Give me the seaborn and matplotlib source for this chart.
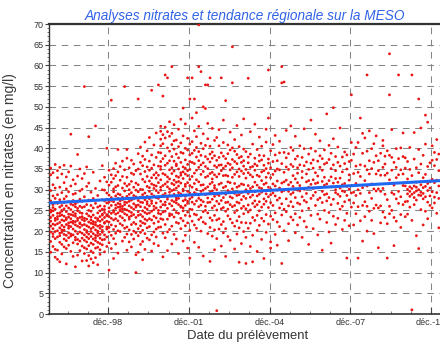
import matplotlib
matplotlib.use("Agg")
import matplotlib.pyplot as plt
import matplotlib.dates as mdates
from matplotlib.ticker import MultipleLocator, FixedLocator, FixedFormatter
import numpy as np
import pandas as pd
import seaborn as sns

# Nitrate concentrations (mg/l), one list per sampling month
mesures_1996 = [  # Oct - Dec
    [22.4, 25.1, 19.8, 27.3, 33.6, 21.2, 17.5, 24.6, 29.8, 14.9, 23.3, 35.2],
    [20.6, 26.4, 23.8, 18.7, 31.2, 24.9, 16.3, 21.7, 28.5, 34.1, 19.4, 25.7],
    [23.1, 18.2, 27.9, 21.5, 15.6, 30.4, 25.3, 22.6, 36.1, 19.9, 26.8, 13.7],
]
mesures_1997 = [
    [21.8, 24.3, 18.6, 26.7, 32.9, 20.1, 15.4, 23.5, 28.8, 13.2, 22.9, 34.6],
    [19.5, 25.8, 22.1, 17.3, 30.6, 24.4, 20.8, 27.6, 12.6, 23.7, 35.4, 18.9],
    [23.9, 21.4, 26.2, 16.8, 29.3, 19.7, 25.0, 22.7, 33.8, 14.5, 24.8, 20.3],
    [20.2, 23.6, 27.8, 18.1, 31.7, 22.5, 16.2, 25.4, 21.0, 35.9, 19.2, 26.9],
    [24.7, 19.0, 22.8, 28.4, 15.8, 26.1, 21.6, 33.1, 17.7, 23.2, 12.1, 30.2],
    [22.0, 25.6, 18.4, 27.1, 20.7, 34.3, 23.4, 16.6, 29.5, 21.3, 24.1, 19.6],
    [21.1, 43.4, 24.0, 18.8, 26.5, 30.9, 22.2, 15.1, 25.2, 19.3, 35.7, 23.0],
    [19.1, 23.8, 26.3, 17.2, 28.9, 22.4, 20.5, 32.4, 24.6, 13.9, 21.9, 27.4],
    [24.2, 20.0, 17.9, 25.9, 22.3, 31.4, 18.5, 26.6, 11.4, 23.6, 29.1, 21.5],
    [38.5, 22.6, 19.4, 24.9, 27.0, 16.9, 21.2, 33.3, 25.5, 18.0, 23.1, 14.2],
    [20.9, 26.0, 23.3, 17.6, 29.7, 22.0, 19.8, 24.5, 35.0, 15.3, 27.7, 21.8],
    [23.5, 18.3, 25.7, 21.4, 30.1, 16.4, 24.3, 19.5, 27.2, 22.8, 12.8, 32.7],
]
mesures_1998 = [
    [54.9, 20.4, 23.1, 17.8, 25.9, 14.6, 21.6, 28.3, 19.1, 33.9, 22.5, 16.0],
    [18.6, 22.9, 15.7, 26.4, 20.1, 12.9, 24.2, 17.4, 30.8, 21.3, 19.7, 35.5],
    [42.8, 21.0, 16.5, 23.7, 19.3, 27.5, 14.1, 22.2, 18.2, 25.0, 11.6, 31.6],
    [20.6, 17.1, 24.8, 19.9, 15.2, 22.7, 29.4, 18.7, 21.9, 13.3, 26.2, 23.4],
    [19.4, 22.3, 16.8, 25.6, 20.9, 14.8, 18.1, 27.9, 21.7, 12.4, 23.9, 34.2],
    [45.4, 21.5, 17.7, 23.2, 19.0, 26.7, 15.9, 22.1, 20.3, 18.4, 30.3, 13.6],
    [20.0, 18.9, 22.6, 16.1, 24.4, 21.2, 17.3, 19.6, 28.6, 23.0, 11.9, 25.8],
    [21.4, 17.0, 23.5, 19.2, 26.1, 15.5, 22.4, 20.7, 32.1, 18.3, 24.9, 14.4],
    [22.8, 19.7, 25.3, 17.9, 27.6, 21.1, 23.9, 16.7, 30.0, 20.2, 35.8, 24.1],
    [24.5, 21.9, 27.3, 19.1, 29.9, 23.3, 18.0, 26.0, 33.0, 22.1, 15.0, 25.2],
    [40.0, 23.7, 26.8, 20.5, 29.2, 24.0, 18.6, 31.9, 22.4, 27.7, 16.3, 21.0],
    [25.6, 22.2, 28.7, 19.8, 31.1, 24.7, 20.9, 27.0, 34.7, 23.5, 17.2, 10.6],
]
mesures_1999 = [
    [51.6, 24.3, 28.1, 21.5, 31.8, 26.2, 19.0, 33.6, 23.1, 27.4, 15.8],
    [22.7, 29.5, 25.0, 20.4, 32.7, 27.1, 18.2, 35.1, 24.6, 13.4, 30.2],
    [26.3, 23.0, 30.7, 21.2, 28.5, 33.4, 25.5, 19.5, 36.4, 24.1, 16.9],
    [39.7, 25.8, 27.9, 22.5, 31.0, 24.4, 20.1, 34.3, 26.7, 29.0, 14.7],
    [24.9, 26.5, 25.2, 28.8, 21.8, 32.3, 27.3, 23.6, 19.9, 35.6, 25.9],
    [26.0, 24.7, 27.6, 23.2, 30.4, 25.4, 21.4, 33.2, 28.2, 17.6, 36.9],
    [54.9, 25.3, 27.0, 24.2, 29.7, 22.6, 31.5, 26.4, 20.7, 34.8, 18.5],
    [39.7, 23.9, 28.4, 21.0, 30.9, 26.9, 19.3, 33.0, 25.1, 15.4, 37.6],
    [22.9, 27.2, 24.8, 31.3, 20.3, 28.9, 35.3, 26.1, 17.4, 30.0, 23.4],
    [25.7, 21.6, 29.3, 23.7, 32.0, 27.5, 19.2, 34.0, 24.5, 16.2, 37.1],
    [24.0, 28.6, 22.1, 30.6, 26.6, 20.0, 33.7, 25.3, 18.1, 36.2, 27.8],
    [10.0, 26.2, 23.3, 29.9, 21.7, 31.6, 25.8, 19.6, 34.6, 28.3, 14.3],
]
mesures_2000 = [
    [51.9, 27.4, 23.8, 31.2, 20.6, 35.0, 26.3, 18.9, 29.5, 38.7, 24.7, 14.9],
    [25.9, 30.1, 22.4, 33.8, 19.7, 28.2, 36.6, 24.0, 16.8, 27.0, 40.3, 21.3],
    [28.8, 23.5, 32.5, 20.2, 26.9, 35.8, 30.0, 17.5, 24.9, 38.1, 22.0, 13.1],
    [24.5, 29.2, 21.8, 34.4, 27.6, 19.4, 31.9, 25.7, 37.3, 22.9, 15.6, 41.5],
    [27.1, 22.6, 30.8, 25.3, 35.5, 20.8, 28.4, 18.3, 33.2, 24.2, 39.4, 26.5],
    [29.6, 24.4, 32.1, 21.1, 27.8, 36.9, 23.0, 30.5, 17.9, 26.1, 34.7, 42.6],
    [54.0, 26.7, 31.4, 22.7, 29.0, 35.2, 24.8, 19.1, 32.9, 27.3, 38.4, 15.2],
    [25.2, 30.3, 21.9, 28.5, 33.6, 26.0, 19.8, 36.0, 23.6, 31.1, 40.8, 17.0],
    [28.1, 23.2, 32.8, 25.6, 37.8, 20.5, 29.8, 34.1, 26.8, 18.6, 30.9, 43.7],
    [55.3, 27.9, 22.3, 31.7, 25.0, 35.7, 29.3, 20.9, 33.5, 24.3, 39.0, 16.5],
    [21.0, 24.1, 27.2, 29.9, 32.4, 34.9, 36.8, 38.9, 40.6, 42.2, 44.1, 45.3, 25.8, 30.6, 23.0, 35.6],
    [52.6, 22.8, 26.4, 31.0, 33.9, 37.5, 41.1, 43.3, 28.7, 24.6, 19.5, 13.8],
]
mesures_2001 = [
    [57.7, 29.1, 33.6, 24.8, 38.2, 27.0, 42.5, 31.4, 21.6, 35.9, 26.3, 45.1, 18.4],
    [57.0, 30.7, 25.5, 36.4, 28.3, 40.1, 22.9, 33.1, 27.7, 44.0, 19.8, 31.9, 15.3],
    [28.6, 34.8, 23.7, 39.3, 30.2, 26.6, 42.9, 32.6, 20.4, 37.0, 29.4, 46.4, 24.2],
    [59.7, 31.5, 27.4, 35.3, 24.0, 40.9, 29.8, 33.9, 21.2, 38.0, 26.1, 43.6, 16.9],
    [30.0, 25.2, 36.9, 28.9, 41.8, 32.3, 23.4, 34.5, 27.1, 39.8, 19.2, 31.2, 45.7],
    [27.5, 33.3, 24.5, 38.6, 30.4, 22.1, 35.8, 28.0, 42.0, 26.8, 31.8, 18.1, 36.2],
    [32.0, 26.4, 37.7, 29.3, 24.3, 40.4, 33.0, 21.9, 35.0, 27.9, 44.6, 30.9, 14.6],
    [29.0, 34.1, 25.8, 39.0, 31.6, 23.1, 36.6, 28.5, 41.3, 26.0, 20.6, 33.5, 47.0],
    [49.7, 30.1, 24.9, 35.5, 27.3, 38.8, 32.7, 22.5, 29.7, 43.0, 25.6, 17.6, 34.3],
    [28.4, 33.8, 26.2, 37.2, 30.8, 23.8, 40.0, 31.3, 21.3, 35.2, 27.6, 45.9, 19.0],
    [57.0, 31.7, 27.2, 36.1, 24.6, 39.6, 29.6, 33.4, 22.0, 42.4, 26.7, 15.9, 34.6],
    [51.9, 29.2, 34.9, 25.3, 38.4, 31.0, 23.6, 36.8, 27.8, 41.0, 20.2, 32.5, 13.5],
]
mesures_2002 = [
    [57.0, 30.6, 25.2, 36.6, 28.2, 41.6, 33.2, 22.4, 38.8, 27.0, 47.3],
    [51.9, 29.3, 34.0, 24.1, 39.5, 31.5, 21.5, 36.3, 26.5, 44.2, 17.3],
    [32.4, 27.3, 37.9, 30.1, 23.9, 42.8, 34.7, 20.7, 29.0, 40.2, 48.6],
    [69.8, 59.7, 28.7, 35.4, 25.9, 39.2, 31.9, 22.8, 37.0, 27.9, 45.3, 16.1],
    [58.5, 31.1, 26.3, 36.0, 29.6, 41.2, 23.3, 33.7, 38.3, 20.0, 27.5],
    [50.0, 29.9, 34.4, 24.7, 39.9, 31.2, 27.1, 43.5, 22.2, 36.5, 14.0],
    [55.3, 49.6, 30.3, 26.0, 35.6, 28.8, 40.7, 33.0, 21.8, 38.0, 25.0],
    [55.3, 28.0, 33.3, 24.4, 37.4, 30.7, 42.3, 26.9, 19.4, 35.1, 46.0],
    [57.0, 31.4, 27.0, 36.7, 29.4, 23.2, 40.5, 33.9, 20.9, 38.6, 12.7],
    [29.7, 34.2, 25.6, 39.1, 31.8, 22.6, 37.6, 27.7, 44.8, 18.8, 32.6],
    [30.4, 26.1, 35.8, 28.4, 41.9, 33.6, 23.8, 38.2, 20.3, 31.0, 15.5],
    [0.8, 28.9, 33.1, 25.1, 37.1, 30.0, 42.6, 22.7, 35.4, 27.2, 18.2],
]
mesures_2003 = [
    [31.3, 26.6, 35.9, 28.6, 40.6, 23.0, 33.8, 20.5, 37.8, 44.5],
    [57.0, 29.2, 34.6, 25.4, 38.9, 31.6, 21.6, 36.0, 27.4, 16.4],
    [30.5, 25.7, 35.2, 28.1, 41.4, 22.3, 33.4, 19.6, 38.1, 46.8],
    [51.5, 28.9, 33.5, 24.8, 37.5, 30.8, 20.6, 35.7, 26.9, 13.9],
    [31.9, 27.0, 36.4, 29.8, 23.7, 40.8, 33.3, 18.7, 38.7, 25.3],
    [29.5, 34.8, 26.4, 39.6, 31.7, 22.9, 36.1, 28.3, 43.9, 17.8],
    [64.5, 55.8, 30.2, 25.9, 35.3, 28.0, 40.1, 22.0, 33.0, 37.3],
    [31.5, 26.2, 36.8, 29.1, 21.2, 39.3, 33.7, 24.5, 42.1, 15.7],
    [28.6, 34.3, 25.0, 38.5, 30.6, 22.5, 36.3, 27.0, 45.5, 19.3],
    [30.9, 26.8, 35.0, 28.8, 40.4, 23.5, 33.2, 20.8, 37.7, 12.5],
    [29.3, 34.5, 25.5, 38.0, 31.4, 22.1, 36.6, 27.6, 43.2, 17.0],
    [31.2, 26.0, 35.7, 28.4, 39.8, 24.2, 33.9, 19.9, 37.0, 47.1],
]
mesures_2004 = [
    [30.0, 25.4, 34.9, 27.9, 39.2, 22.0, 32.8, 18.5, 12.2],
    [56.9, 29.1, 34.1, 24.6, 37.9, 31.0, 20.7, 36.5, 26.3],
    [28.2, 33.6, 25.1, 38.6, 30.3, 21.9, 35.4, 16.3, 44.0],
    [30.7, 26.7, 35.6, 28.7, 41.0, 23.3, 33.1, 19.0, 12.6],
    [29.5, 34.7, 25.9, 37.6, 31.8, 22.6, 36.2, 27.3, 45.8],
    [31.1, 26.4, 35.8, 28.5, 39.7, 23.8, 33.5, 20.2, 15.1],
    [28.9, 33.2, 24.9, 38.3, 30.5, 21.4, 36.9, 27.1, 42.7],
    [30.3, 25.8, 34.3, 29.4, 40.5, 23.1, 32.2, 18.0, 37.2],
    [29.8, 34.6, 26.5, 38.2, 31.3, 22.4, 35.9, 27.8, 13.4],
    [31.6, 27.2, 35.1, 29.0, 41.5, 24.0, 33.0, 19.7, 44.6],
    [58.9, 47.3, 28.3, 34.0, 25.7, 37.4, 30.6, 21.7, 36.4],
    [30.2, 26.9, 35.3, 28.8, 39.4, 23.6, 32.9, 17.4, 15.9],
]
mesures_2005 = [
    [31.4, 26.2, 36.8, 29.2, 40.9, 22.8, 33.7],
    [28.5, 34.5, 24.4, 38.4, 30.9, 19.2, 43.1],
    [32.1, 27.5, 37.0, 29.9, 22.2, 35.0, 16.6],
    [30.4, 25.6, 34.8, 28.0, 41.7, 21.1, 38.9],
    [59.7, 55.8, 31.6, 26.6, 36.3, 29.5, 23.9, 12.2],
    [56.0, 29.8, 34.2, 25.3, 39.0, 31.9, 20.1],
    [32.3, 27.8, 37.7, 30.0, 24.7, 35.5, 44.3],
    [29.6, 34.9, 26.1, 38.7, 31.2, 21.8, 17.7],
    [45.4, 31.8, 27.1, 36.1, 28.9, 40.2, 23.4],
    [30.8, 25.9, 35.6, 29.3, 39.5, 22.7, 33.4],
    [32.6, 28.1, 37.4, 30.2, 24.2, 42.9, 19.6],
    [29.9, 35.3, 26.8, 38.1, 31.7, 21.5, 34.0],
]
mesures_2006 = [
    [31.0, 26.5, 36.0, 29.7, 40.6, 23.3],
    [32.9, 28.3, 37.8, 24.9, 34.4, 18.5],
    [30.1, 35.8, 27.4, 39.9, 22.4, 44.7],
    [31.9, 27.0, 36.7, 29.1, 21.0, 33.8],
    [30.6, 34.9, 25.5, 38.6, 32.2, 16.8],
    [46.8, 31.3, 27.9, 36.4, 23.8, 40.0],
    [32.4, 28.6, 37.2, 30.3, 20.6, 35.2],
    [29.4, 34.1, 26.2, 39.3, 31.5, 43.4],
    [31.7, 27.6, 36.9, 24.1, 33.3, 19.1],
    [30.5, 35.4, 28.0, 38.2, 22.9, 41.8],
    [32.0, 26.9, 37.5, 29.6, 34.7, 15.4],
    [31.1, 28.8, 36.2, 25.0, 39.6, 33.0],
]
mesures_2007 = [
    [48.3, 31.4, 27.3, 36.5, 29.0, 22.1],
    [32.2, 28.1, 37.3, 24.5, 40.7, 19.8],
    [30.7, 35.1, 26.4, 38.8, 33.1, 17.1],
    [49.8, 31.6, 27.7, 36.0, 23.6, 42.3],
    [30.0, 34.6, 29.3, 38.0, 21.6, 32.7],
    [31.8, 26.7, 36.6, 28.9, 40.3, 23.1],
    [32.8, 28.4, 35.7, 25.3, 30.4, 44.9],
    [29.7, 34.3, 26.0, 37.9, 31.2, 20.4],
    [31.5, 27.1, 36.3, 29.5, 22.6, 39.1],
    [13.5, 30.8, 35.0, 28.6, 38.4, 24.3],
    [32.3, 27.5, 36.8, 30.1, 21.3, 33.6],
    [52.9, 31.0, 29.2, 37.1, 25.8, 41.4],
]
mesures_2008 = [
    [33.9, 26.8, 38.6, 29.4, 21.5],
    [31.5, 24.2, 40.2, 35.7, 28.6],
    [13.5, 34.2, 25.9, 30.0, 41.4],
    [47.3, 36.0, 22.5, 29.1, 33.2],
    [30.5, 38.8, 26.2, 43.6, 17.6],
    [35.7, 27.1, 32.2, 23.5, 42.5],
    [57.7, 34.8, 26.0, 39.3, 30.9, 20.0],
    [29.3, 37.0, 24.8, 33.8, 44.2],
    [35.1, 27.9, 39.9, 22.6, 31.4],
    [30.2, 36.6, 25.5, 41.1, 19.4],
    [33.8, 26.3, 38.2, 29.7, 43.0],
    [34.6, 25.6, 37.0, 30.2, 16.0],
]
mesures_2009 = [
    [33.5, 26.1, 38.8, 29.6, 22.0],
    [30.3, 35.4, 24.6, 40.6, 41.9],
    [28.9, 36.2, 23.3, 33.5, 38.1],
    [13.5, 34.0, 27.6, 39.4, 21.8],
    [62.8, 52.9, 32.4, 26.0, 38.3, 24.2],
    [34.7, 25.0, 37.8, 29.3, 44.5],
    [31.1, 23.3, 36.6, 28.9, 16.5],
    [35.4, 27.8, 39.9, 22.4, 32.9],
    [57.7, 33.6, 26.7, 37.5, 29.6],
    [34.8, 28.3, 40.1, 24.0, 20.9],
    [31.0, 26.4, 38.0, 33.8, 43.7],
    [35.2, 27.1, 30.9, 37.7, 23.5],
]
mesures_2010 = [
    [30.1, 29.0, 32.6, 27.2, 36.8, 24.1],
    [29.6, 30.7, 28.4, 34.9, 25.8, 40.2],
    [57.7, 1.0, 30.3, 28.9, 33.4, 22.6],
    [29.3, 30.9, 28.1, 37.4, 26.4, 43.8],
    [30.6, 29.7, 31.8, 27.5, 35.3, 18.9],
    [51.9, 15.8, 30.0, 28.7, 34.1, 39.7],
    [29.4, 31.2, 28.6, 36.2, 25.2, 44.9],
    [30.5, 29.1, 32.9, 27.8, 38.3, 21.5],
    [48.0, 30.8, 28.3, 33.7, 24.8, 41.0],
    [29.8, 31.5, 27.0, 35.6, 23.0, 46.3],
    [31.9, 28.5, 36.5, 26.2, 30.4],
    [32.5, 29.5, 37.1, 25.6, 40.6],
]
mesures_2011 = [  # Jan - Mar
    [31.7, 28.2, 35.8, 26.8, 39.0],
    [32.3, 29.3, 37.3, 24.3, 42.1],
    [30.9, 27.9, 34.6, 20.8, 38.6],
]

# (year, first month, monthly lists)
series = [
    (1996, 10, mesures_1996), (1997, 1, mesures_1997), (1998, 1, mesures_1998),
    (1999, 1, mesures_1999), (2000, 1, mesures_2000), (2001, 1, mesures_2001),
    (2002, 1, mesures_2002), (2003, 1, mesures_2003), (2004, 1, mesures_2004),
    (2005, 1, mesures_2005), (2006, 1, mesures_2006), (2007, 1, mesures_2007),
    (2008, 1, mesures_2008), (2009, 1, mesures_2009), (2010, 1, mesures_2010),
    (2011, 1, mesures_2011),
]

# Regional trend line end points
tendance_dates = ["1996-09-22", "2011-07-15"]
tendance_valeurs = [26.8, 32.3]

tick_dates = ["1998-12-01", "2001-12-01", "2004-12-01", "2007-12-01", "2010-12-01"]
tick_labels = ["déc.-98", "déc.-01", "déc.-04", "déc.-07", "déc.-10"]

rows = []
for annee, mois0, listes in series:
    for i, valeurs in enumerate(listes):
        d = pd.Timestamp(annee, mois0 + i, 15)
        rows.extend((d, v) for v in valeurs)
df = pd.DataFrame(rows, columns=["date", "nitrates"])
tendance = pd.DataFrame({"date": pd.to_datetime(tendance_dates), "nitrates": tendance_valeurs})

sns.set_style("white")
plt.rcParams["font.family"] = ["Liberation Sans", "DejaVu Sans"]

W, H = 440, 344
fig = plt.figure(figsize=(W / 100, H / 100), dpi=100)
fig.patch.set_facecolor("white")
ax = fig.add_axes([49 / W, 1 - 314 / H, 398.8 / W, 290 / H])

sns.scatterplot(data=df, x="date", y="nitrates", ax=ax, s=4, color="#ec1515",
                linewidth=0, edgecolor="none", zorder=3, legend=False)
sns.lineplot(data=tendance, x="date", y="nitrates", ax=ax, color="#1f68f2",
             linewidth=2.2, zorder=4)

ax.set_xlim(pd.Timestamp("1996-09-22"), pd.Timestamp("2011-07-15"))
ax.set_ylim(0, 70)
ax.set_xlabel("")
ax.set_ylabel("")

ax.xaxis.set_major_locator(FixedLocator(mdates.date2num(pd.to_datetime(tick_dates))))
ax.xaxis.set_major_formatter(FixedFormatter(tick_labels))
minor = pd.date_range("1996-09-01", "2011-12-01", freq="9MS")
ax.xaxis.set_minor_locator(FixedLocator(mdates.date2num(minor)))
ax.yaxis.set_major_locator(MultipleLocator(5))
ax.yaxis.set_minor_locator(MultipleLocator(1))

ax.tick_params(axis="x", which="major", direction="in", length=5, width=0.8,
               color="#444444", labelsize=6.5, labelcolor="#333333", pad=3)
ax.tick_params(axis="x", which="minor", direction="in", length=2.5, width=0.6, color="#666666")
ax.tick_params(axis="y", which="major", direction="out", length=3, width=0.8,
               color="#444444", labelsize=6.5, labelcolor="#333333", pad=1)
ax.tick_params(axis="y", which="minor", direction="out", length=1.8, width=0.6, color="#555555")
ax.tick_params(left=True, bottom=True, which="both")

ax.set_axisbelow(True)
ax.grid(True, which="major", axis="both", color="#858585",
        linestyle=(0, (6.3, 5.4)), linewidth=0.75)

for side, lw in [("top", 1.6), ("left", 1.0), ("bottom", 1.2)]:
    ax.spines[side].set_linewidth(lw)
    ax.spines[side].set_color("#333333")
ax.spines["right"].set_visible(False)

# Titles placed in figure pixels
fig.text(245 / W, 1 - 20 / H, "Analyses nitrates et tendance régionale sur la MESO",
         ha="center", va="baseline", fontsize=9.8, style="italic", color="#2f62e6")
fig.text(248 / W, 1 - 336 / H, "Date du prélèvement", ha="center", va="center",
         fontsize=9.4, color="#333333")
fig.text(10 / W, 1 - 181 / H, "Concentration en nitrates (en mg/l)", ha="center",
         va="center", rotation=90, fontsize=10.0, color="#3a3a3a")

fig.savefig("out.png", dpi=100, facecolor="white")
